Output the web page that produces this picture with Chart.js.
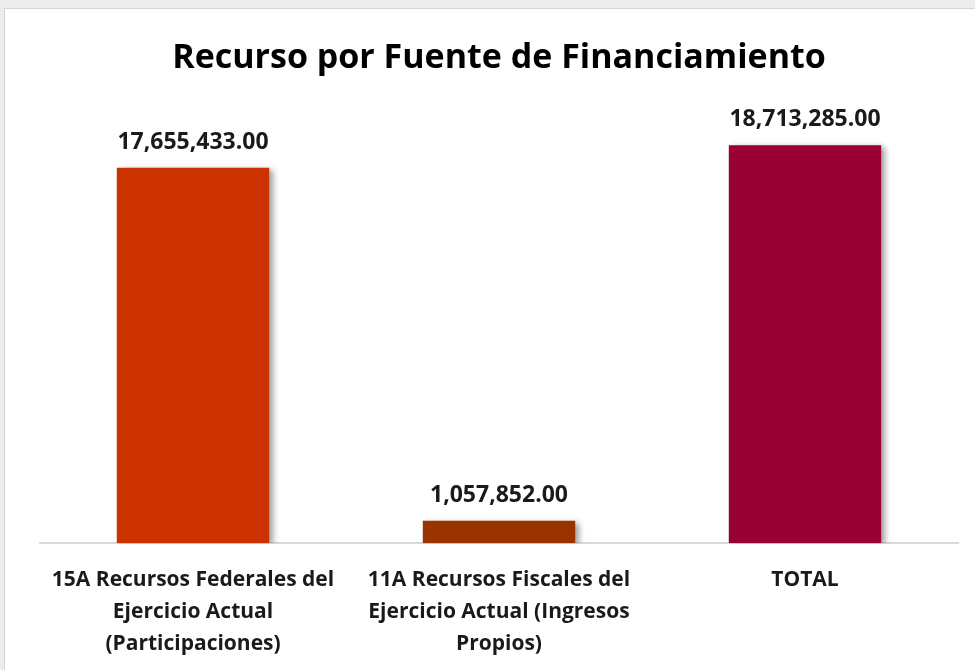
<!DOCTYPE html>
<html>
<head>
<meta charset="utf-8">
<script src="https://cdn.jsdelivr.net/npm/chart.js@4.4.0/dist/chart.umd.min.js"></script>
<style>
  html, body { margin: 0; padding: 0; background: #ececec; overflow: hidden; }
  #frame {
    position: absolute; left: 4px; top: 8px; width: 990px; height: 680px;
    background: #ffffff; border: 1px solid #d4d4d4;
  }
  #wrap { position: absolute; left: 0; top: 0; width: 975px; height: 681px; }
</style>
</head>
<body>
<div id="frame"></div>
<div id="wrap"><canvas id="fuenteChart"></canvas></div>
<script>
// data
const categories = [
    ['15A Recursos Federales del', 'Ejercicio Actual', '(Participaciones)'],
    ['11A Recursos Fiscales del', 'Ejercicio Actual (Ingresos', 'Propios)'],
    ['TOTAL']
];
const montos = [17655433.00, 1057852.00, 18713285.00];
const barColors = ['#CC3300', '#993300', '#990033'];

const FONT = '"Open Sans", Lato, sans-serif';

const fmt = v => v.toLocaleString('en-US', { minimumFractionDigits: 2, maximumFractionDigits: 2 });

// drop shadow behind the bars, like the spreadsheet original
const barShadow = {
    id: 'barShadow',
    beforeDatasetsDraw(chart) {
        const ctx = chart.ctx;
        ctx.save();
        ctx.shadowColor = 'rgba(0,0,0,0.38)';
        ctx.shadowBlur = 6;
        ctx.shadowOffsetX = 4;
        ctx.shadowOffsetY = 2;
    },
    afterDatasetsDraw(chart) {
        chart.ctx.restore();
    }
};

// value labels above each bar
const valueLabels = {
    id: 'valueLabels',
    afterDatasetsDraw(chart) {
        const ctx = chart.ctx;
        const meta = chart.getDatasetMeta(0);
        ctx.save();
        ctx.font = 'bold 23px ' + FONT;
        ctx.fillStyle = '#1a1a1a';
        ctx.textAlign = 'center';
        ctx.textBaseline = 'alphabetic';
        meta.data.forEach((bar, i) => {
            ctx.fillText(fmt(montos[i]), bar.x, bar.y - 19);
        });
        ctx.restore();
    }
};

new Chart(document.getElementById('fuenteChart'), {
    type: 'bar',
    data: {
        labels: categories,
        datasets: [{
            data: montos,
            backgroundColor: barColors,
            barPercentage: 0.83,
            categoryPercentage: 0.6
        }]
    },
    options: {
        responsive: true,
        maintainAspectRatio: false,
        animation: false,
        layout: { padding: { left: 40, right: 17, top: 0, bottom: 0 } },
        plugins: {
            legend: { display: false },
            tooltip: { enabled: false },
            title: {
                display: true,
                text: 'Recurso por Fuente de Financiamiento',
                color: '#000000',
                font: { family: FONT, size: 34, weight: 'bold' },
                padding: { top: 38, bottom: 39 }
            }
        },
        scales: {
            x: {
                grid: { display: false, drawTicks: false },
                border: { display: true, color: '#d9d9d9', width: 2 },
                ticks: {
                    color: '#1a1a1a',
                    font: { family: FONT, size: 21, weight: 'bold', lineHeight: 1.52 },
                    padding: 21,
                    maxRotation: 0,
                    autoSkip: false
                }
            },
            y: {
                display: false,
                min: 0,
                max: 20000000
            }
        }
    },
    plugins: [barShadow, valueLabels]
});
</script>
</body>
</html>
